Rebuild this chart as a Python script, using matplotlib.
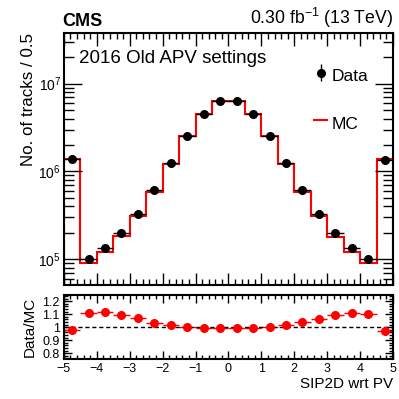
import numpy as np
import matplotlib
matplotlib.use("Agg")
import matplotlib.pyplot as plt
from matplotlib.ticker import MultipleLocator, LogLocator, NullFormatter, FixedLocator
from matplotlib.lines import Line2D

plt.rcParams['font.family'] = ['Liberation Sans', 'DejaVu Sans']
plt.rcParams['mathtext.fontset'] = 'custom'
plt.rcParams['mathtext.rm'] = 'Liberation Sans'

bin_edges = np.arange(-5, 5.01, 0.5)
mc = [1.40e6, 9.0e4, 1.20e5, 1.83e5, 3.08e5, 5.9e5, 1.22e6, 2.53e6, 4.52e6, 6.4e6,
      6.4e6, 4.52e6, 2.53e6, 1.22e6, 5.9e5, 3.08e5, 1.80e5, 1.20e5, 9.1e4, 1.38e6]
data = [1.375e6, 9.99e4, 1.338e5, 2.004e5, 3.286e5, 6.11e5, 1.236e6, 2.525e6, 4.475e6, 6.336e6,
        6.336e6, 4.475e6, 2.525e6, 1.236e6, 6.136e5, 3.271e5, 1.971e5, 1.330e5, 1.001e5, 1.339e6]
xtick_labels = ['\u22125', '\u22124', '\u22123', '\u22122', '\u22121', '0', '1', '2', '3', '4', '5']
rtick_vals = [0.8, 0.9, 1.0, 1.1, 1.2]
rtick_labels = ['0.8', '0.9', '1', '1.1', '1.2']

mc = np.array(mc)
data = np.array(data)
centers = 0.5 * (bin_edges[:-1] + bin_edges[1:])
xerr = 0.5 * np.diff(bin_edges)
ratio = data / mc

fig = plt.figure(figsize=(3.99, 3.99), dpi=100)
ax = fig.add_axes([0.160, 0.286, 0.825, 0.632])
rax = fig.add_axes([0.160, 0.100, 0.825, 0.160])

# main
ax.stairs(mc, bin_edges, color='red', lw=1.5, label='MC')
ax.errorbar(centers, data, xerr=xerr, yerr=np.sqrt(data), fmt='o', color='black',
            ms=5.5, lw=1.0, label='Data')
ax.set_yscale('log')
ax.set_xlim(-5, 5)
ax.set_ylim(5.1e4, 3.8e7)
ax.set_ylabel('No. of tracks / 0.5', fontsize=12.2, loc='top', labelpad=2)
ax.xaxis.set_major_locator(MultipleLocator(1))
ax.xaxis.set_minor_locator(MultipleLocator(0.2))
ax.yaxis.set_major_locator(LogLocator(base=10, numticks=10))
ax.yaxis.set_minor_locator(LogLocator(base=10, subs=np.arange(2, 10), numticks=50))
ax.yaxis.set_minor_formatter(NullFormatter())
ax.set_xticklabels([])
for a in (ax, rax):
    a.tick_params(which='both', direction='in', top=True, right=True, labelsize=9)
    a.tick_params(which='major', length=9, width=1)
    a.tick_params(which='minor', length=4.5, width=1)
    for s in a.spines.values():
        s.set_linewidth(1.5)
ax.tick_params(axis='y', which='major', length=13, labelsize=10, pad=2)
ax.tick_params(axis='y', which='minor', length=7)

ax.text(-0.005, 1.012, 'CMS', transform=ax.transAxes, fontsize=13, fontweight='bold',
        ha='left', va='bottom')
ax.text(1.0, 1.012, r'0.30 fb$^{-1}$ (13 TeV)', transform=ax.transAxes, fontsize=12.7,
        ha='right', va='bottom')
ax.text(0.045, 0.93, '2016 Old APV settings', transform=ax.transAxes, fontsize=13.5,
        ha='left', va='top')

eb = ax.errorbar([], [], yerr=[], xerr=None, fmt='o', color='black', ms=5.5, lw=1.0)
mc_handle = Line2D([], [], color='red', lw=1.5)
leg = ax.legend([eb, mc_handle], ['Data', 'MC'], loc='upper left',
                bbox_to_anchor=(0.76, 0.875), frameon=False, fontsize=12.5,
                handlelength=0.75, handletextpad=0.25, labelspacing=1.45,
                borderpad=0, borderaxespad=0, handleheight=1.6)

# ratio
rax.errorbar(centers, ratio, xerr=xerr, yerr=ratio * np.sqrt(1 / data + 1 / mc), fmt='o',
             color='red', ms=5.5, lw=1.0)
rax.axhline(1.0, color='black', ls=(0, (3, 2)), lw=1.0)
rax.set_xlim(-5, 5)
rax.set_ylim(0.755, 1.245)
rax.xaxis.set_major_locator(MultipleLocator(1))
rax.xaxis.set_minor_locator(MultipleLocator(0.2))
rax.yaxis.set_major_locator(FixedLocator(rtick_vals))
rax.yaxis.set_minor_locator(MultipleLocator(0.02))
rax.set_yticklabels(rtick_labels)
rax.tick_params(which='major', length=6)
rax.tick_params(which='minor', length=3)
rax.tick_params(axis='y', labelsize=9, pad=3)
rax.tick_params(axis='x', pad=2.5)
rax.set_xticks(range(-5, 6))
rax.set_xticklabels(xtick_labels)
rax.set_ylabel('Data/MC', fontsize=11)
rax.set_xlabel('SIP2D wrt PV', fontsize=11, loc='right', labelpad=2)

fig.savefig('out.png', dpi=100)
